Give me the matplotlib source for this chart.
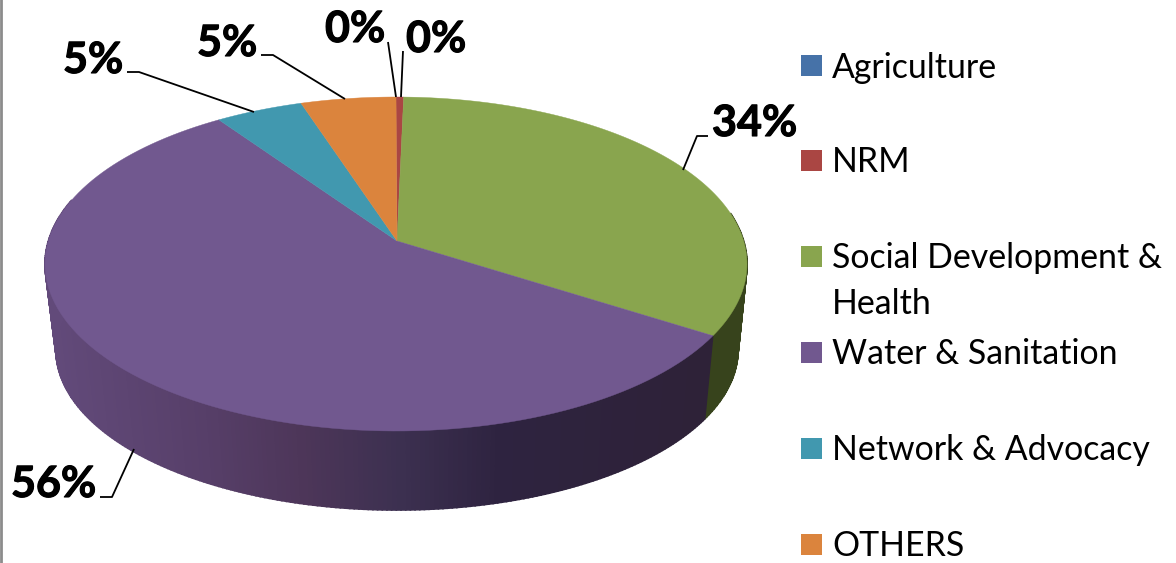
import numpy as np
import matplotlib
matplotlib.use("Agg")
import matplotlib.pyplot as plt
import matplotlib.patheffects as pe
from matplotlib.colors import to_rgb

categories = ["Agriculture", "NRM", "Social Development &\nHealth", "Water & Sanitation",
              "Network & Advocacy", "OTHERS"]
shares = [0.0, 0.4, 33.6, 56.4, 4.6, 5.0]
colors = ["#4672a8", "#aa4643", "#89a54e", "#71588f", "#4198af", "#db843d"]

plt.rcParams["font.family"] = ["Lato", "DejaVu Sans"]
fig = plt.figure(figsize=(11.76, 5.63), dpi=100)
ax = fig.add_axes([0, 0, 1, 1])
ax.set_xlim(0, 1176)
ax.set_ylim(563, 0)
ax.axis("off")

TILT = 0.138


def rim(theta, cx, cy, rx, ry):
    # theta in degrees clockwise from 12 o'clock, perspective moves the centre up
    t = np.radians(theta)
    u, v = np.sin(t), np.cos(t)
    den = 1 + TILT * v
    x = u * np.sqrt(1 - TILT ** 2) / den
    y = (v + TILT) / den
    return cx + rx * x, cy - ry * y


top = (396, 264, 351, 167)
bottom = (397, 350, 341, 160)
edges = np.cumsum([0] + shares) / 100 * 360

# side wall, shaded strip by strip
stops_x = [50, 200, 300, 400, 500, 700]
stops_c = np.array([to_rgb(c) for c in ["#624a7a", "#573f69", "#4d3659", "#3c3050", "#2e2340", "#2e2238"]])
thetas = np.linspace(80, 285, 300)
for a, b in zip(thetas[:-1], thetas[1:]):
    x1, y1 = rim(np.array([a, b]), *top)
    x2, y2 = rim(np.array([b, a]), *bottom)
    if a < edges[3]:
        c = "#37431c"
    else:
        xm = x1.mean()
        c = [np.interp(xm, stops_x, stops_c[:, k]) for k in range(3)]
    ax.fill(np.r_[x1, x2], np.r_[y1, y2], color=c, lw=1.2)

# top face
apex_x, apex_y = 397, 241
for i, col in enumerate(colors):
    if shares[i] == 0:
        continue
    th = np.linspace(edges[i], edges[i + 1], 120)
    x, y = rim(th, *top)
    ax.fill(np.r_[apex_x, x], np.r_[apex_y, y], color=col, lw=0.3)

# data labels with leader lines
label_pos = [(325, 42), (406, 52), (712, 136), (11, 497), (63, 73), (197, 56)]
leaders = [
    [(388, 42), (396, 97)],
    [(403, 51), (401, 97)],
    [(708, 136), (697, 136), (683, 170)],
    [(100, 497), (112, 497), (134, 449)],
    [(127, 72), (139, 72), (254, 112)],
    [(261, 55), (273, 55), (345, 99)],
]
for v, (lx, ly), pts in zip(shares, label_pos, leaders):
    t = ax.text(lx, ly, f"{round(v)}%", fontsize=31, fontweight="bold", color="black",
                ha="left", va="baseline")
    t.set_path_effects([pe.withStroke(linewidth=0.8, foreground="black")])
    px, py = zip(*pts)
    ax.plot(px, py, color="black", lw=1.3, solid_capstyle="butt")

# legend
legend_y = [55, 150, 246, 342, 438, 534]
for name, col, y in zip(categories, colors, legend_y):
    ax.fill([801, 822, 822, 801], [y, y, y + 20.5, y + 20.5], color=col, lw=0)
    for j, line in enumerate(name.split("\n")):
        ax.text(832, y + 22.5 + j * 46, line, fontsize=24.4, color="black", ha="left", va="baseline")

# chart frame on the left
ax.plot([1, 1], [0, 563], color="#8c8c8c", lw=2)

fig.savefig("out.png", dpi=100)
